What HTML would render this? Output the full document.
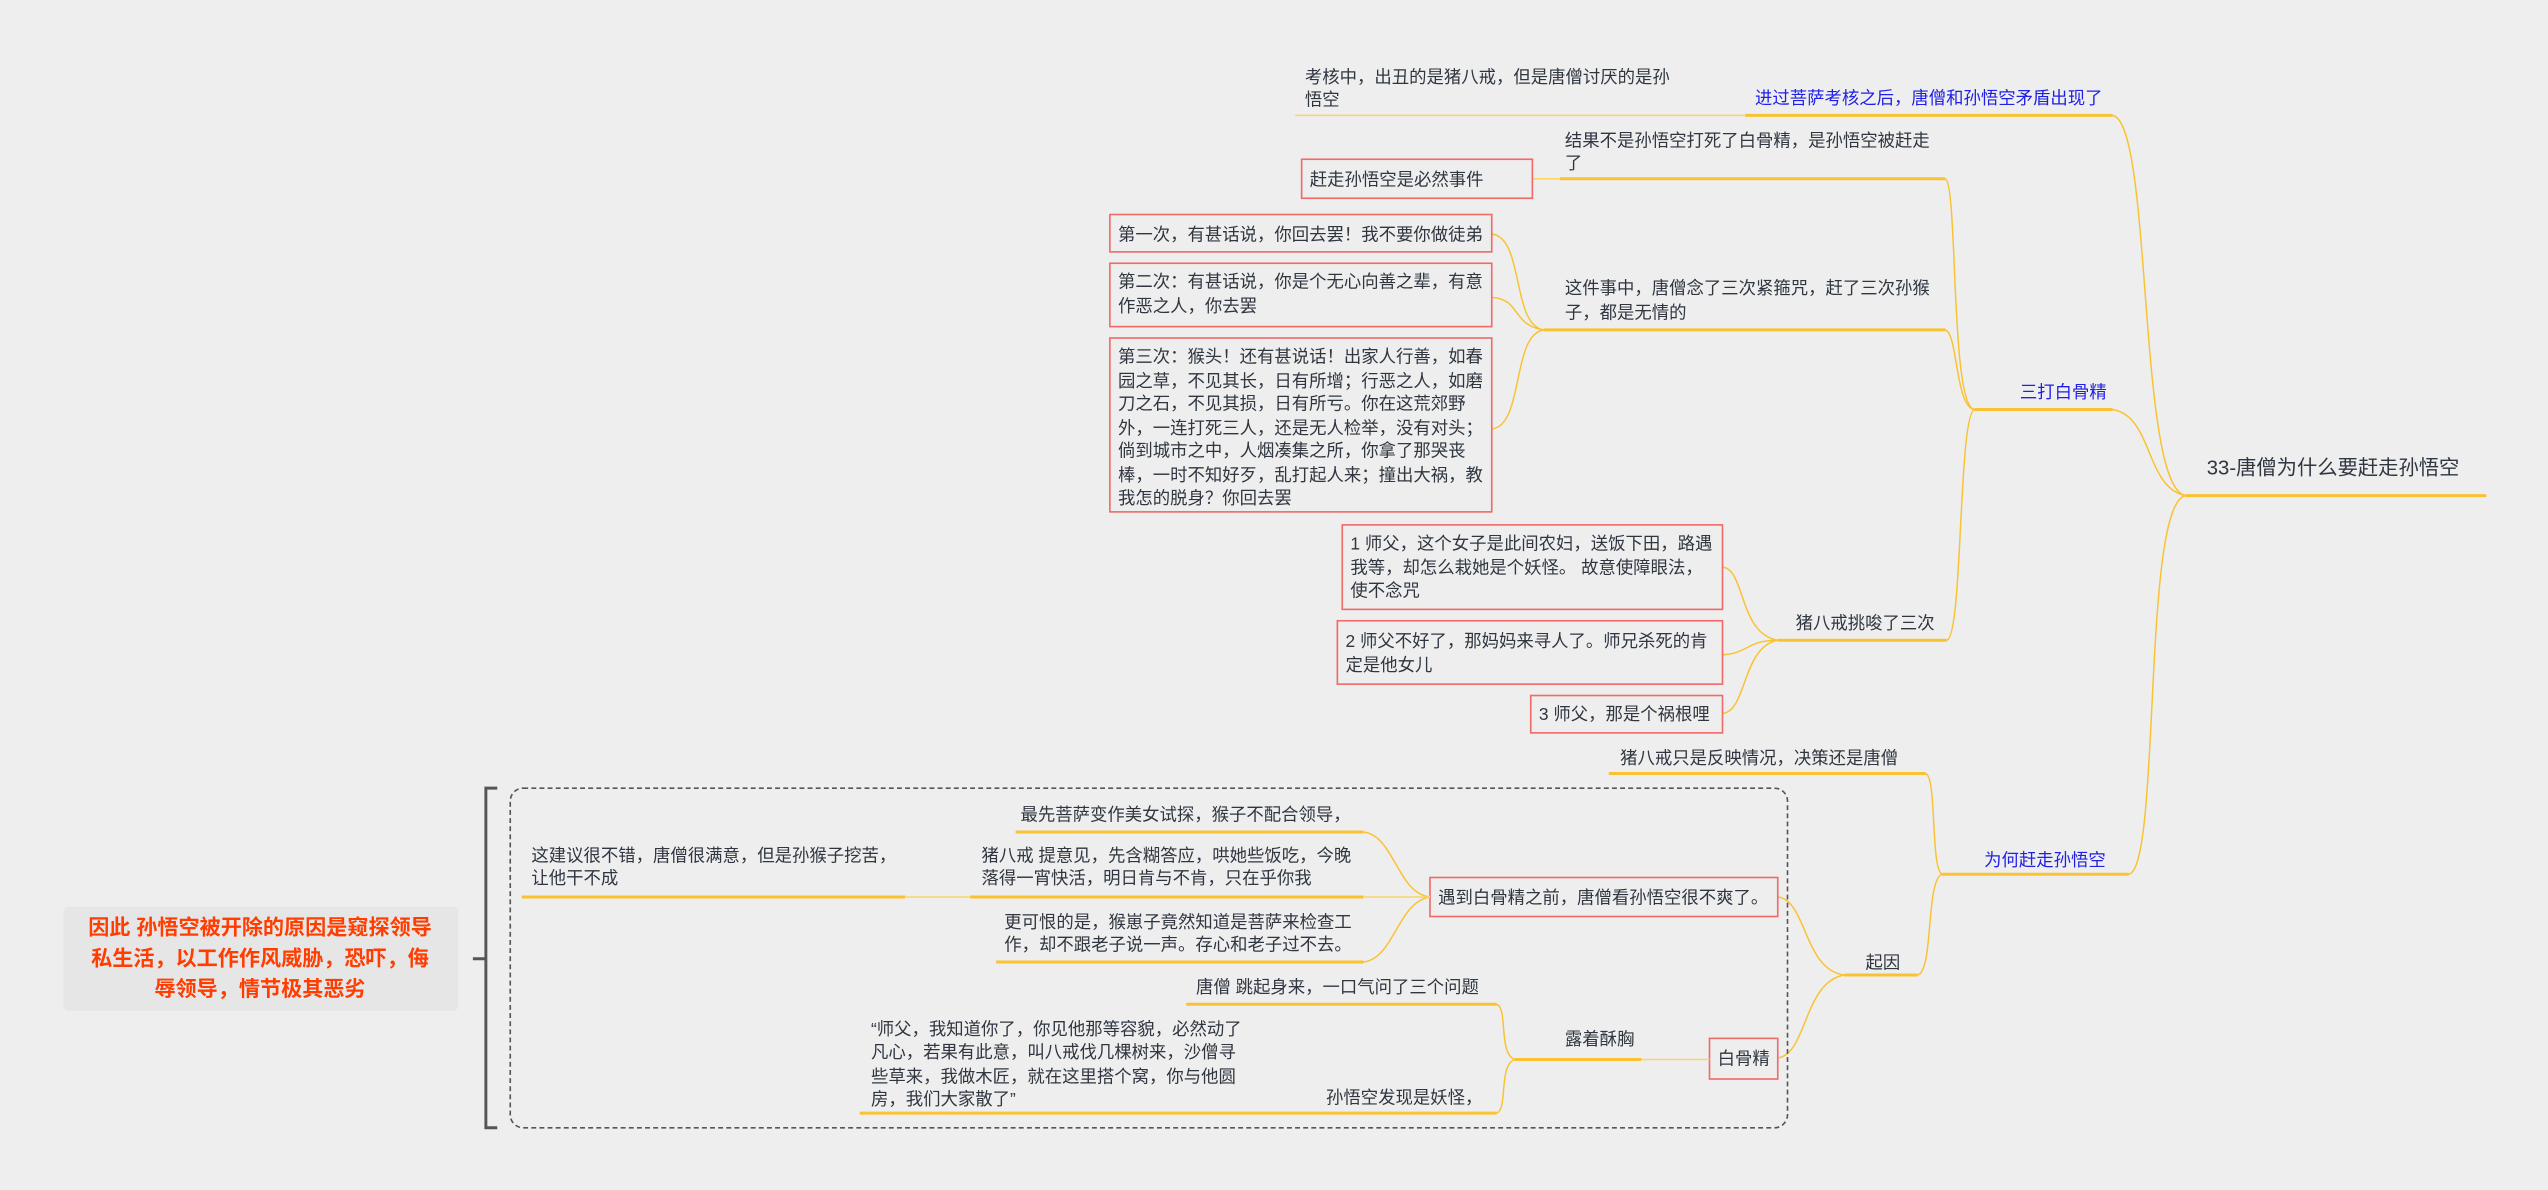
<!DOCTYPE html>
<html><head><meta charset="utf-8"><style>
html,body{margin:0;padding:0;background:#eeeeee;}
svg{display:block;}
text{font-family:"Liberation Sans","Noto Sans CJK SC",sans-serif;font-size:10.7px;fill:#2f3640;}
.b{fill:#1f1fe6;}
.box{fill:#eeeeee;stroke:#f06a6a;stroke-width:1;}
.th{stroke:#f9c232;stroke-width:1.8;fill:none;}
.tl{stroke:#fbd36a;stroke-width:0.9;fill:none;}
.cv{stroke:#f9c232;stroke-width:0.9;fill:none;}
</style></head><body>
<svg width="2548" height="1190" viewBox="0 0 1568 732.3" xmlns="http://www.w3.org/2000/svg">
<rect width="1568" height="733" fill="#eeeeee"/>
<text x="1358" y="292" style="font-size:12.5px">33-唐僧为什么要赶走孙悟空</text>
<line class="th" x1="1345" y1="305" x2="1530" y2="305"/>
<path class="cv" d="M1345 305 C1315 300 1325 75 1300 71"/>
<path class="cv" d="M1345 305 C1320 300 1325 256 1300 252"/>
<path class="cv" d="M1345 305 C1318 310 1330 534 1310 538"/>
<text class="b" x="1080" y="64">进过菩萨考核之后，唐僧和孙悟空矛盾出现了</text>
<line class="th" x1="1074" y1="71" x2="1300" y2="71"/>
<line class="tl" x1="797" y1="71" x2="1074" y2="71"/>
<text x="803" y="51">考核中，出丑的是猪八戒，但是唐僧讨厌的是孙</text>
<text x="803" y="65">悟空</text>
<text class="b" x="1243" y="245">三打白骨精</text>
<line class="th" x1="1215" y1="252" x2="1300" y2="252"/>
<path class="cv" d="M1215 252 C1200 250 1205 112 1197 110"/>
<path class="cv" d="M1215 252 C1203 250 1205 205 1197 203"/>
<path class="cv" d="M1215 252 C1205 256 1208 392 1198 394"/>
<text x="963" y="90">结果不是孙悟空打死了白骨精，是孙悟空被赶走</text>
<text x="963" y="104">了</text>
<line class="th" x1="960" y1="110" x2="1197" y2="110"/>
<line class="tl" x1="943" y1="110" x2="960" y2="110"/>
<rect class="box" x="801" y="98" width="142" height="24"/>
<text x="806" y="114">赶走孙悟空是必然事件</text>
<text x="963" y="181">这件事中，唐僧念了三次紧箍咒，赶了三次孙猴</text>
<text x="963" y="196">子，都是无情的</text>
<line class="th" x1="950" y1="203" x2="1197" y2="203"/>
<path class="cv" d="M950 203 C930 200 938 146 918 144"/>
<path class="cv" d="M950 203 C930 200 936 184 918 183"/>
<path class="cv" d="M950 203 C930 206 938 262 918 264"/>
<rect class="box" x="683" y="132" width="235" height="23"/>
<text x="688" y="148">第一次，有甚话说，你回去罢！我不要你做徒弟</text>
<rect class="box" x="683" y="162" width="235" height="39"/>
<text x="688" y="177">第二次：有甚话说，你是个无心向善之辈，有意</text>
<text x="688" y="192">作恶之人，你去罢</text>
<rect class="box" x="683" y="208" width="235" height="107"/>
<text x="688" y="223">第三次：猴头！还有甚说话！出家人行善，如春</text>
<text x="688" y="238">园之草，不见其长，日有所增；行恶之人，如磨</text>
<text x="688" y="252">刀之石，不见其损，日有所亏。你在这荒郊野</text>
<text x="688" y="267">外，一连打死三人，还是无人检举，没有对头；</text>
<text x="688" y="281">倘到城市之中，人烟凑集之所，你拿了那哭丧</text>
<text x="688" y="296">棒，一时不知好歹，乱打起人来；撞出大祸，教</text>
<text x="688" y="310">我怎的脱身？你回去罢</text>
<text x="1105" y="387">猪八戒挑唆了三次</text>
<line class="th" x1="1094" y1="394" x2="1198" y2="394"/>
<path class="cv" d="M1094 394 C1070 390 1074 350 1060 349"/>
<path class="cv" d="M1094 394 C1075 394 1076 402 1060 403"/>
<path class="cv" d="M1094 394 C1072 398 1075 438 1060 439"/>
<rect class="box" x="826" y="323" width="234" height="52"/>
<text x="831" y="338">1 师父，这个女子是此间农妇，送饭下田，路遇</text>
<text x="831" y="353">我等，却怎么栽她是个妖怪。 故意使障眼法，</text>
<text x="831" y="367">使不念咒</text>
<rect class="box" x="823" y="382" width="237" height="39"/>
<text x="828" y="398">2 师父不好了，那妈妈来寻人了。师兄杀死的肯</text>
<text x="828" y="413">定是他女儿</text>
<rect class="box" x="942" y="428" width="118" height="23"/>
<text x="947" y="443">3 师父，那是个祸根哩</text>
<text class="b" x="1221" y="533">为何赶走孙悟空</text>
<line class="th" x1="1195" y1="538" x2="1310" y2="538"/>
<path class="cv" d="M1195 538 C1188 534 1192 478 1185 476"/>
<path class="cv" d="M1195 538 C1185 542 1190 598 1180 600"/>
<text x="997" y="470">猪八戒只是反映情况，决策还是唐僧</text>
<line class="th" x1="990" y1="476" x2="1185" y2="476"/>
<text x="1148" y="596">起因</text>
<line class="th" x1="1135" y1="600" x2="1180" y2="600"/>
<path class="cv" d="M1135 600 C1110 597 1112 554 1094 552"/>
<path class="cv" d="M1135 600 C1110 604 1112 649 1094 651"/>
<rect x="314" y="485" width="786" height="209" rx="8" ry="8" fill="none" stroke="#555" stroke-width="1" stroke-dasharray="3,2"/>
<path d="M306 485 L299 485 L299 694 L306 694 M299 590 L291 590" fill="none" stroke="#555" stroke-width="1.8"/>
<rect x="39" y="558" width="243" height="64" rx="3" fill="#e6e6e6"/>
<text x="160" y="575" text-anchor="middle" style="fill:#ff3d00;font-weight:bold;font-size:13px">因此 孙悟空被开除的原因是窥探领导</text>
<text x="160" y="594" text-anchor="middle" style="fill:#ff3d00;font-weight:bold;font-size:13px">私生活，以工作作风威胁，恐吓，侮</text>
<text x="160" y="613" text-anchor="middle" style="fill:#ff3d00;font-weight:bold;font-size:13px">辱领导，情节极其恶劣</text>
<rect class="box" x="880" y="540" width="214" height="24"/>
<text x="885" y="556">遇到白骨精之前，唐僧看孙悟空很不爽了。</text>
<path class="cv" d="M880 552 C860 550 858 514 839 512"/>
<path class="cv" d="M880 552 C860 555 858 590 839 592"/>
<text x="628" y="505">最先菩萨变作美女试探，猴子不配合领导，</text>
<line class="th" x1="625" y1="512" x2="839" y2="512"/>
<text x="604" y="530">猪八戒 提意见，先含糊答应，哄她些饭吃，今晚</text>
<text x="604" y="544">落得一宵快活，明日肯与不肯，只在乎你我</text>
<line class="th" x1="597" y1="552" x2="839" y2="552"/>
<line class="tl" x1="839" y1="552" x2="880" y2="552"/>
<text x="327" y="530">这建议很不错，唐僧很满意，但是孙猴子挖苦，</text>
<text x="327" y="544">让他干不成</text>
<line class="th" x1="321" y1="552" x2="557" y2="552"/>
<line class="tl" x1="557" y1="552" x2="597" y2="552"/>
<text x="618" y="571">更可恨的是，猴崽子竟然知道是菩萨来检查工</text>
<text x="618" y="585">作，却不跟老子说一声。存心和老子过不去。</text>
<line class="th" x1="613" y1="592" x2="839" y2="592"/>
<rect class="box" x="1052" y="639" width="42" height="25"/>
<text x="1057" y="655">白骨精</text>
<text x="963" y="643">露着酥胸</text>
<line class="tl" x1="932" y1="652" x2="1052" y2="652"/>
<line class="th" x1="932" y1="652" x2="1010" y2="652"/>
<path class="cv" d="M932 652 C922 648 928 620 921 618"/>
<path class="cv" d="M932 652 C922 656 928 683 921 685"/>
<text x="736" y="611">唐僧 跳起身来，一口气问了三个问题</text>
<line class="th" x1="730" y1="618" x2="921" y2="618"/>
<text x="816" y="679">孙悟空发现是妖怪，</text>
<line class="th" x1="811" y1="685" x2="921" y2="685"/>
<text x="536" y="637">“师父，我知道你了，你见他那等容貌，必然动了</text>
<text x="536" y="651">凡心，若果有此意，叫八戒伐几棵树来，沙僧寻</text>
<text x="536" y="666">些草来，我做木匠，就在这里搭个窝，你与他圆</text>
<text x="536" y="680">房，我们大家散了”</text>
<line class="th" x1="529" y1="685" x2="811" y2="685"/>
</svg>
</body></html>
